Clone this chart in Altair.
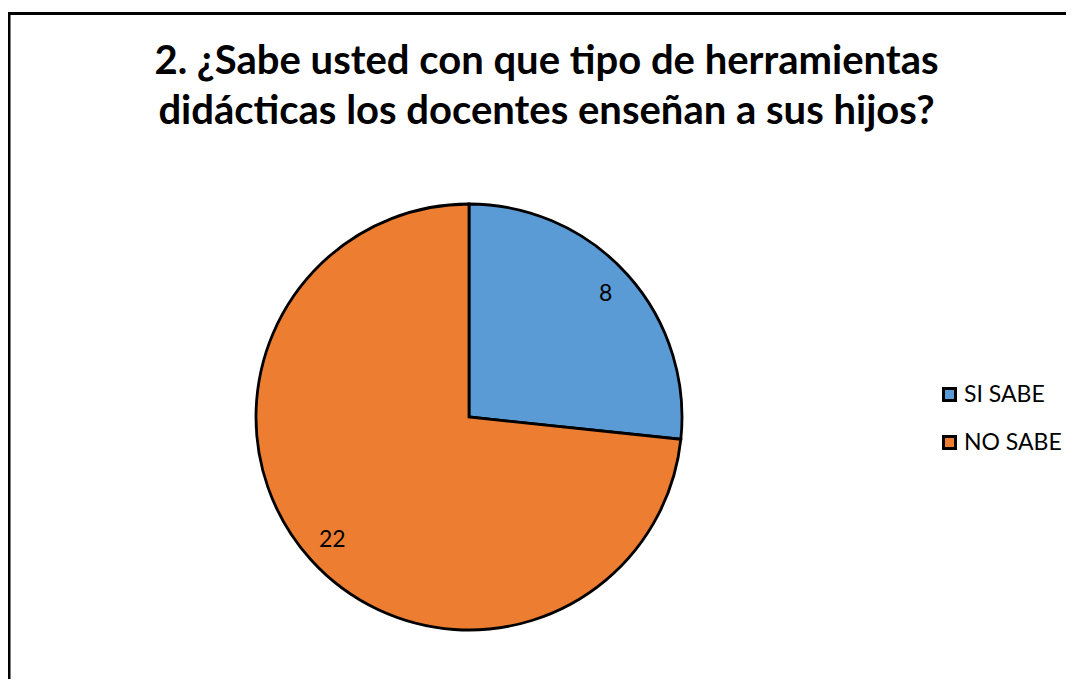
import altair as alt
import pandas as pd

categories = ["SI SABE", "NO SABE"]
values = [8, 22]
order = [0, 1]
colors = ["#5B9BD5", "#ED7D31"]
title_lines = [
    "2. ¿Sabe usted con que tipo de herramientas",
    "didácticas los docentes enseñan a sus hijos?",
]

df = pd.DataFrame({"categoria": categories, "valor": values, "orden": order})

W, H = 1057, 666
CX, CY = 460, 404
R = 213

base = alt.Chart(df).encode(
    theta=alt.Theta("valor:Q", stack=True),
    order=alt.Order("orden:Q"),
)

pie = base.mark_arc(outerRadius=R, stroke="black", strokeWidth=2.8).encode(
    x=alt.value(CX),
    y=alt.value(CY),
    color=alt.Color(
        "categoria:N",
        scale=alt.Scale(domain=categories, range=colors),
        legend=alt.Legend(
            title=None,
            orient="none",
            legendX=929,
            legendY=370,
            symbolType="square",
            symbolSize=144,
            symbolStrokeColor="black",
            symbolStrokeWidth=3,
            labelFont="Lato",
            labelFontSize=23,
            labelColor="black",
            labelOffset=3,
            rowPadding=23,
            padding=0,
        ),
    ),
)

labels = base.mark_text(radius=184, fontSize=23, font="Lato", color="black").encode(
    x=alt.value(CX),
    y=alt.value(CY),
    text=alt.Text("valor:Q"),
)

frame_df = pd.DataFrame({"k": [0]})
left_rule = alt.Chart(frame_df).mark_rule(color="black", strokeWidth=3).encode(
    x=alt.value(0), y=alt.value(0), y2=alt.value(H + 20)
)
top_rule = alt.Chart(frame_df).mark_rule(color="black", strokeWidth=3).encode(
    x=alt.value(-1), x2=alt.value(W + 20), y=alt.value(0.5)
)

chart = alt.layer(pie, labels, left_rule, top_rule).properties(
    width=W,
    height=H,
    autosize=alt.AutoSizeParams(type="none"),
    padding={"left": 1, "top": 5, "right": 0, "bottom": 0},
    title=alt.TitleParams(
        text=title_lines,
        font="Lato",
        fontSize=40,
        fontWeight="bold",
        color="black",
        anchor="middle",
        orient="top",
        baseline="top",
        offset=-40,
        dx=9,
        dy=80,
        lineHeight=50,
    ),
).configure_view(stroke=None)

chart.save("out.html", embed_options={"renderer": "svg", "actions": False})
